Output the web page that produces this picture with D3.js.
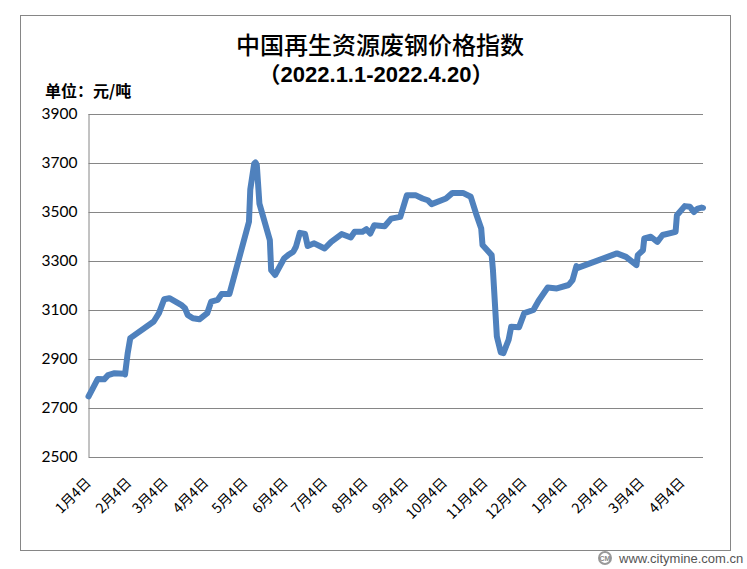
<!DOCTYPE html>
<html>
<head>
<meta charset="utf-8">
<script src="https://cdn.jsdelivr.net/npm/d3@7/dist/d3.min.js"></script>
<style>
  html, body { margin: 0; padding: 0; background: #fff; }
  svg { display: block; }
</style>
</head>
<body>
<svg id="chart" width="747" height="569"></svg>
<script>
// ---- data ----
const dates = [
  "2021-01-04","2021-01-07","2021-01-11","2021-01-16","2021-01-19","2021-01-24","2021-01-31",
  "2021-02-01","2021-02-03","2021-02-05","2021-02-23","2021-02-27",
  "2021-03-03","2021-03-07","2021-03-16","2021-03-19","2021-03-21","2021-03-25","2021-03-30",
  "2021-04-05","2021-04-08","2021-04-13","2021-04-16","2021-04-22",
  "2021-05-07","2021-05-08","2021-05-11","2021-05-12","2021-05-13","2021-05-15","2021-05-23","2021-05-24","2021-05-27",
  "2021-06-03","2021-06-06","2021-06-10","2021-06-12","2021-06-15","2021-06-19","2021-06-21","2021-06-26",
  "2021-07-04","2021-07-09","2021-07-17","2021-07-24","2021-07-27",
  "2021-08-02","2021-08-05","2021-08-08","2021-08-11","2021-08-19","2021-08-24","2021-08-31",
  "2021-09-05","2021-09-12","2021-09-17","2021-09-21","2021-09-24",
  "2021-10-05","2021-10-10","2021-10-18","2021-10-24","2021-10-28",
  "2021-11-01","2021-11-02","2021-11-09","2021-11-10","2021-11-13","2021-11-16","2021-11-18","2021-11-22","2021-11-24","2021-11-30",
  "2021-12-04","2021-12-11","2021-12-15","2021-12-22","2021-12-29",
  "2022-01-07","2022-01-10","2022-01-13","2022-01-14",
  "2022-02-13","2022-02-20","2022-02-28",
  "2022-03-01","2022-03-05","2022-03-06","2022-03-11","2022-03-16","2022-03-20","2022-03-30","2022-03-31",
  "2022-04-06","2022-04-10","2022-04-13","2022-04-16","2022-04-19","2022-04-20"
];
const values = [
  2745,2775,2816,2815,2832,2840,2838,
  2835,2920,2983,3051,3085,
  3142,3146,3119,3105,3078,3064,3060,
  3085,3132,3139,3163,3163,
  3458,3590,3695,3700,3690,3532,3383,3261,3241,
  3309,3322,3336,3356,3413,3408,3359,3370,
  3349,3376,3408,3394,3417,
  3417,3428,3410,3444,3440,3471,3478,
  3566,3566,3553,3546,3530,
  3553,3576,3576,3560,3492,
  3431,3363,3322,3261,2990,2925,2922,2976,3030,3028,
  3085,3098,3136,3190,3186,
  3200,3220,3277,3270,
  3329,3315,3281,
  3322,3342,3390,3397,3376,3404,3417,3485,
  3522,3519,3498,3512,3516,3515
];
const yTicks = [2500,2700,2900,3100,3300,3500,3700,3900];
const xTickDates = ["2021-01-04","2021-02-04","2021-03-04","2021-04-04","2021-05-04","2021-06-04",
  "2021-07-04","2021-08-04","2021-09-04","2021-10-04","2021-11-04","2021-12-04",
  "2022-01-04","2022-02-04","2022-03-04","2022-04-04"];
const xTickLabels = ["1月4日","2月4日","3月4日","4月4日","5月4日","6月4日","7月4日","8月4日",
  "9月4日","10月4日","11月4日","12月4日","1月4日","2月4日","3月4日","4月4日"];
const titleText = "中国再生资源废钢价格指数";
const subtitleText = "（2022.1.1-2022.4.20）";
const unitText = "单位：元/吨";
const footerText = "www.citymine.com.cn";

// ---- chart ----
const svg = d3.select("#chart");
const parse = d3.timeParse("%Y-%m-%d");
const pts = dates.map((d, i) => ({ date: parse(d), value: values[i] }));

const plot = { left: 88.5, right: 703, top: 113.5, bottom: 456.5 };

const x = d3.scaleTime()
  .domain([parse("2021-01-04"), parse("2022-04-20")])
  .range([plot.left, plot.right]);
const y = d3.scaleLinear()
  .domain([2500, 3900])
  .range([plot.bottom, plot.top]);

svg.append("rect").attr("width", 747).attr("height", 569).attr("fill", "#fff");

// outer border
svg.append("rect")
  .attr("x", 20.5).attr("y", 15.5).attr("width", 710).attr("height", 535)
  .attr("fill", "none").attr("stroke", "#868686").attr("stroke-width", 1);

// gridlines
svg.append("g")
  .selectAll("line").data(yTicks).join("line")
  .attr("x1", plot.left).attr("x2", plot.right)
  .attr("y1", d => Math.round(y(d)) + 0.5).attr("y2", d => Math.round(y(d)) + 0.5)
  .attr("stroke", "#868686").attr("stroke-width", 1);

// y axis
const yAxis = d3.axisLeft(y).tickValues(yTicks).tickSize(0).tickPadding(11).tickFormat(d3.format("d"));
const gy = svg.append("g").attr("transform", `translate(${plot.left},0)`).call(yAxis);
gy.select(".domain").attr("stroke", "#868686");
gy.selectAll("text")
  .attr("font-family", "Lato, 'Liberation Sans', sans-serif")
  .attr("font-size", 15.5).attr("fill", "#000");

// x axis labels
const xAxis = d3.axisBottom(x).tickValues(xTickDates.map(parse)).tickSize(0)
  .tickFormat((d, i) => xTickLabels[i]);
const gx = svg.append("g").attr("transform", `translate(0,${plot.bottom})`).call(xAxis);
gx.select(".domain").remove();
gx.selectAll("text")
  .attr("font-family", "'Noto Sans CJK SC', sans-serif")
  .attr("font-size", 14).attr("fill", "#000")
  .attr("text-anchor", "end")
  .attr("dy", null).attr("y", 0)
  .attr("transform", "translate(3,27) rotate(-45)");

// line
const line = d3.line().x(d => x(d.date)).y(d => y(d.value));
svg.append("path").datum(pts)
  .attr("d", line)
  .attr("fill", "none").attr("stroke", "#4F81BD").attr("stroke-width", 6)
  .attr("stroke-linejoin", "round").attr("stroke-linecap", "round");

// titles
svg.append("text").attr("x", 380).attr("y", 54).attr("text-anchor", "middle")
  .attr("font-family", "'Noto Sans CJK SC', sans-serif").attr("font-size", 24)
  .attr("font-weight", 500).text(titleText);
svg.append("text").attr("x", 376).attr("y", 82).attr("text-anchor", "middle")
  .attr("font-family", "'Liberation Sans', 'Noto Sans CJK SC', sans-serif").attr("font-size", 22)
  .attr("font-weight", "bold").text(subtitleText);
svg.append("text").attr("x", 45).attr("y", 97)
  .attr("font-family", "'Noto Sans CJK SC', sans-serif").attr("font-size", 16)
  .attr("font-weight", "bold").text(unitText);

// footer
const lg = svg.append("g").attr("transform", "translate(605,558)");
lg.append("circle").attr("r", 6).attr("fill", "none").attr("stroke", "#999").attr("stroke-width", 2);
lg.append("text").attr("y", 3).attr("text-anchor", "middle").attr("font-size", 7)
  .attr("font-family", "'Liberation Sans', sans-serif").attr("font-weight", "bold").attr("fill", "#888").text("CM");
svg.append("text").attr("x", 619).attr("y", 563)
  .attr("font-family", "'Liberation Sans', sans-serif").attr("font-size", 13)
  .attr("fill", "#555").text(footerText);
</script>
</body>
</html>
